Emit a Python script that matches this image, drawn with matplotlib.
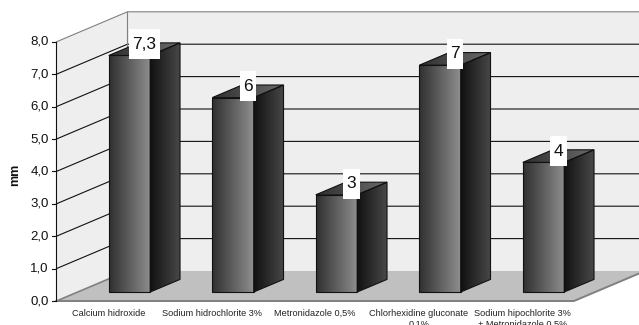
import numpy as np
import matplotlib
matplotlib.use('Agg')
import matplotlib.pyplot as plt
from matplotlib.patches import Polygon, Rectangle
from matplotlib.colors import LinearSegmentedColormap

plt.rcParams['font.family'] = ['Liberation Sans', 'DejaVu Sans']

categories = ['Calcium hidroxide', 'Sodium hidrochlorite 3%', 'Metronidazole 0,5%',
              'Chlorhexidine gluconate\n0,1%', 'Sodium hipochlorite 3%\n+ Metronidazole 0,5%']
values = [7.3, 6, 3, 7, 4]
value_labels = ['7,3', '6', '3', '7', '4']
y_ticks = [0, 1, 2, 3, 4, 5, 6, 7, 8]
y_tick_labels = ['0,0', '1,0', '2,0', '3,0', '4,0', '5,0', '6,0', '7,0', '8,0']

# size of one unit on screen, used for the oblique projection
PX_PER_CAT = 103.5
PX_PER_VAL = 32.4
DEPTH_X = 71 / PX_PER_CAT
DEPTH_Y = 30 / PX_PER_VAL
BAR_W = 0.4
BAR_D0 = 0.3
BAR_D1 = 0.72

def proj(x, v, d=0.0):
    return (x + d * DEPTH_X, v + d * DEPTH_Y)

def gradient(ax, pts, c0, c1, zorder):
    # horizontal gradient clipped to a polygon
    cmap = LinearSegmentedColormap.from_list('g', [c0, c1])
    xs = [p[0] for p in pts]
    ys = [p[1] for p in pts]
    im = ax.imshow(np.linspace(0, 1, 64).reshape(1, -1), cmap=cmap, aspect='auto',
                   extent=(min(xs), max(xs), min(ys), max(ys)), zorder=zorder,
                   interpolation='bilinear')
    poly = Polygon(pts, closed=True, transform=ax.transData, fill=False,
                   edgecolor='#111111', linewidth=0.8, zorder=zorder + 0.1)
    ax.add_patch(poly)
    im.set_clip_path(poly)

fig = plt.figure(figsize=(6.39, 3.25), dpi=100)
ax = fig.add_axes([0, 0, 1, 1])
ax.axis('off')

x_left = -0.5
x_right = 4.5
xlim = (-108.2 / PX_PER_CAT, (639 - 108.2) / PX_PER_CAT)
ylim = (-24 / PX_PER_VAL, 301 / PX_PER_VAL)
ax.set_xlim(xlim)
ax.set_ylim(ylim)

# walls
top = y_ticks[-1]
ax.add_patch(Polygon([proj(x_left, 0), proj(x_left, top), proj(x_left, top, 1), proj(x_left, 0, 1)],
                     facecolor='#eeeeee', edgecolor='none', zorder=1))
ax.add_patch(Polygon([proj(x_left, 0, 1), proj(x_left, top, 1), proj(x_right + 2, top, 1), proj(x_right + 2, 0, 1)],
                     facecolor='#eeeeee', edgecolor='none', zorder=1))

# gridlines on side and back wall
for t in y_ticks[1:]:
    color = '#808080' if t == top else '#111111'
    ax.plot(*zip(proj(x_left, t), proj(x_left, t, 1), proj(x_right + 2, t, 1)),
            color=color, lw=0.8, zorder=2, snap=False)
ax.plot(*zip(proj(x_left, 0, 1), proj(x_left, top, 1)), color='#808080', lw=0.8, zorder=2)

# floor
ax.add_patch(Polygon([proj(x_left, 0), proj(x_left, 0, 1), proj(x_right + 2, 0, 1),
                      proj(x_right, 0, 1), proj(x_right, 0)],
                     facecolor='#c0c0c0', edgecolor='none', zorder=3))
ax.plot(*zip(proj(x_left, 0), proj(x_right, 0), proj(x_right, 0, 1)), color='#808080', lw=1.4, zorder=3.5)
ax.plot(*zip(proj(x_left, 0), proj(x_left, 0, 1)), color='#808080', lw=1.2, zorder=3.5)

# value axis
ax.plot([x_left, x_left], [0, top], color='#111111', lw=0.8, zorder=4)
for t, lab in zip(y_ticks, y_tick_labels):
    x0, v0 = proj(x_left, t)
    ax.plot([x0 - 4 / PX_PER_CAT, x0], [v0, v0], color='#111111', lw=0.8, zorder=4)
    ax.text(x0 - 7.5 / PX_PER_CAT, v0, lab, ha='right', va='center', fontsize=9.5, color='#111111')
ax.text(-0.9, 3.9, 'mm', rotation=90, ha='center', va='center', fontsize=9, fontweight='bold', color='#111111')

# bars
renderer = fig.canvas.get_renderer()
for i, (v, lab) in enumerate(zip(values, value_labels)):
    x0 = i - BAR_W / 2
    x1 = i + BAR_W / 2
    z = 5 + i
    gradient(ax, [proj(x0, 0, BAR_D0), proj(x1, 0, BAR_D0), proj(x1, v, BAR_D0), proj(x0, v, BAR_D0)],
             '#303030', '#8e8e8e', z)
    gradient(ax, [proj(x1, 0, BAR_D0), proj(x1, 0, BAR_D1), proj(x1, v, BAR_D1), proj(x1, v, BAR_D0)],
             '#121212', '#474747', z)
    gradient(ax, [proj(x0, v, BAR_D0), proj(x1, v, BAR_D0), proj(x1, v, BAR_D1), proj(x0, v, BAR_D1)],
             '#303030', '#6a6a6a', z)
    lx, ly = proj(i, v, (BAR_D0 + BAR_D1) / 2)
    ly += 5 / PX_PER_VAL
    txt = ax.text(lx, ly, lab, ha='center', va='center', fontsize=12.5, color='#111111', zorder=21)
    # white label box, a bit wider than the text and of fixed height
    w = (txt.get_window_extent(renderer).width + 7) / PX_PER_CAT
    h = 30 / PX_PER_VAL
    ax.add_patch(Rectangle((lx - w / 2, ly - h / 2), w, h, facecolor='white', edgecolor='none', zorder=20))

# category labels, the two-line ones run off the bottom edge
for i, c in enumerate(categories):
    ax.text(i, -7.5 / PX_PER_VAL, c, ha='center', va='top', fontsize=6.6, color='#222222',
            linespacing=1.4, zorder=20)

ax.set_xlim(xlim)
ax.set_ylim(ylim)
fig.savefig('out.png', dpi=100)
